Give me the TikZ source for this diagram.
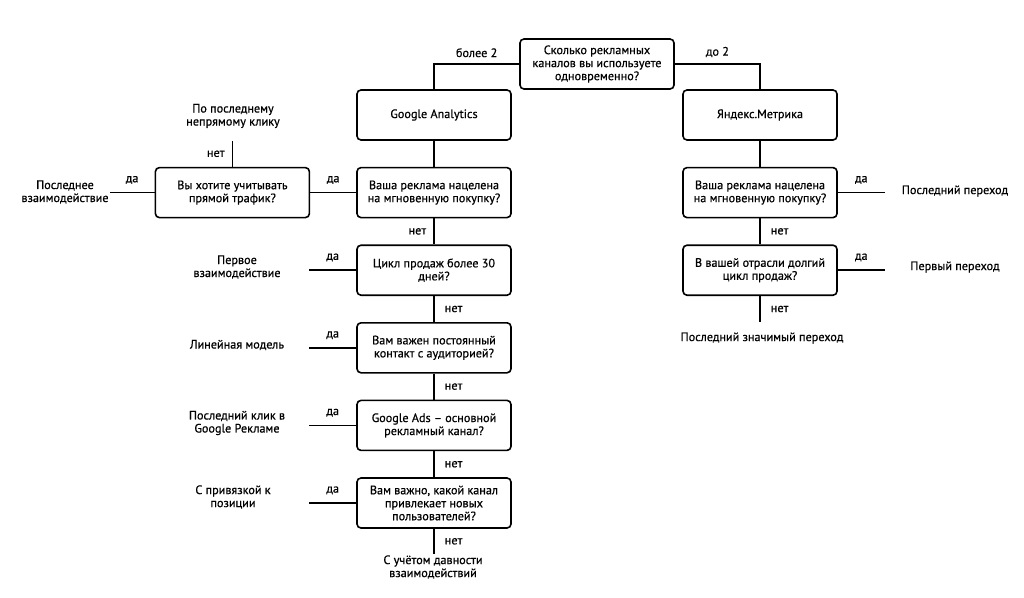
\documentclass[tikz,border=0pt]{standalone}
\usepackage{fontspec}
\setmainfont{PT Sans}[FakeBold=0.6]
\usetikzlibrary{positioning}

\tikzset{
  qbox/.style={draw,rounded corners=4pt,minimum width=154pt,minimum height=50pt,
    align=center,inner sep=2pt},
  outcome/.style={align=center,inner sep=1pt},
  yes/.style={midway,above=7pt,inner sep=1pt},
  noR/.style={midway,right=9pt,inner sep=1pt},
  noL/.style={midway,left=6pt,inner sep=1pt}
}

\begin{document}
\begin{tikzpicture}[x=1pt,y=-1pt,node distance=26pt,line width=1.6pt,
    font=\fontsize{12.2}{13}\selectfont]
    \useasboundingbox (0,0) rectangle (1024,597);

    % top question and the two branches
    \node[qbox] (start) at (597,64) {Сколько рекламных\\каналов вы используете\\одновременно?};
    \node[qbox] (ga) at (434,115) {Google Analytics};
    \node[qbox] (ym) at (760,115) {Яндекс.Метрика};

    \draw (start.west) -| node[pos=0.25,above=5pt,inner sep=1pt]{более 2} (ga.north);
    \draw (start.east) -| node[pos=0.25,above=5pt,inner sep=1pt]{до 2} (ym.north);

    % Google Analytics column
    \node[qbox,below=of ga] (gaBuy) {Ваша реклама нацелена\\на мгновенную покупку?};
    \node[qbox,below=of gaBuy] (gaCycle) {Цикл продаж более 30\\дней?};
    \node[qbox,below=of gaCycle] (gaContact) {Вам важен постоянный\\контакт с аудиторией?};
    \node[qbox,below=of gaContact] (gaAds) {Google Ads -- основной\\рекламный канал?};
    \node[qbox,below=of gaAds] (gaNew) {Вам важно, какой канал\\привлекает новых\\пользователей?};
    \node[qbox,left=46pt of gaBuy] (gaDirect) {Вы хотите учитывать\\прямой трафик?};

    \coordinate[above=26pt of gaDirect.north] (endDirNo);
    \coordinate[left=45pt of gaDirect.west] (endDirYes);
    \coordinate[left=47pt of gaCycle.west] (endCycle);
    \coordinate[left=47pt of gaContact.west] (endContact);
    \coordinate[left=47pt of gaAds.west] (endAds);
    \coordinate[left=47pt of gaNew.west] (endNewYes);
    \coordinate[below=25pt of gaNew.south] (endNewNo);

    \draw (ga) -- (gaBuy);
    \draw (gaBuy) -- node[yes]{да} (gaDirect);
    \draw (gaDirect.west) -- node[yes]{да} (endDirYes);
    \draw (gaDirect.north) -- node[noL]{нет} (endDirNo);
    \draw (gaBuy) -- node[noL]{нет} (gaCycle);
    \draw (gaCycle.west) -- node[yes]{да} (endCycle);
    \draw (gaCycle) -- node[noR]{нет} (gaContact);
    \draw (gaContact.west) -- node[yes]{да} (endContact);
    \draw (gaContact) -- node[noR]{нет} (gaAds);
    \draw (gaAds.west) -- node[yes]{да} (endAds);
    \draw (gaAds) -- node[noR]{нет} (gaNew);
    \draw (gaNew.west) -- node[yes]{да} (endNewYes);
    \draw (gaNew.south) -- node[noR]{нет} (endNewNo);

    \node[outcome] (resLastTouch) at (65,192) {Последнее\\взаимодействие};
    \node[outcome] (resIndirect) at (233,116) {По последнему\\непрямому клику};
    \node[outcome] (resFirstTouch) at (237,267) {Первое\\взаимодействие};
    \node[outcome] (resLinear) at (237,345) {Линейная модель};
    \node[outcome] (resAds) at (237,423) {Последний клик в\\Google Рекламе};
    \node[outcome] (resPosition) at (233,497) {С привязкой к\\позиции};
    \node[outcome] (resDecay) at (433,567) {С учётом давности\\взаимодействий};

    % Yandex.Metrica column
    \node[qbox,below=of ym] (ymBuy) {Ваша реклама нацелена\\на мгновенную покупку?};
    \node[qbox,below=of ymBuy] (ymCycle) {В вашей отрасли долгий\\цикл продаж?};

    \coordinate[right=47pt of ymBuy.east] (endYmBuy);
    \coordinate[right=47pt of ymCycle.east] (endYmCycle);
    \coordinate[below=26pt of ymCycle.south] (endYmNo);

    \draw (ym) -- (ymBuy);
    \draw (ymBuy.east) -- node[yes]{да} (endYmBuy);
    \draw (ymBuy) -- node[noR]{нет} (ymCycle);
    \draw (ymCycle.east) -- node[yes]{да} (endYmCycle);
    \draw (ymCycle.south) -- node[noR]{нет} (endYmNo);

    \node[outcome] (resLastClick) at (955,191) {Последний переход};
    \node[outcome] (resFirstClick) at (955,267) {Первый переход};
    \node[outcome] (resSignificant) at (762,338) {Последний значимый переход};
\end{tikzpicture}
\end{document}
